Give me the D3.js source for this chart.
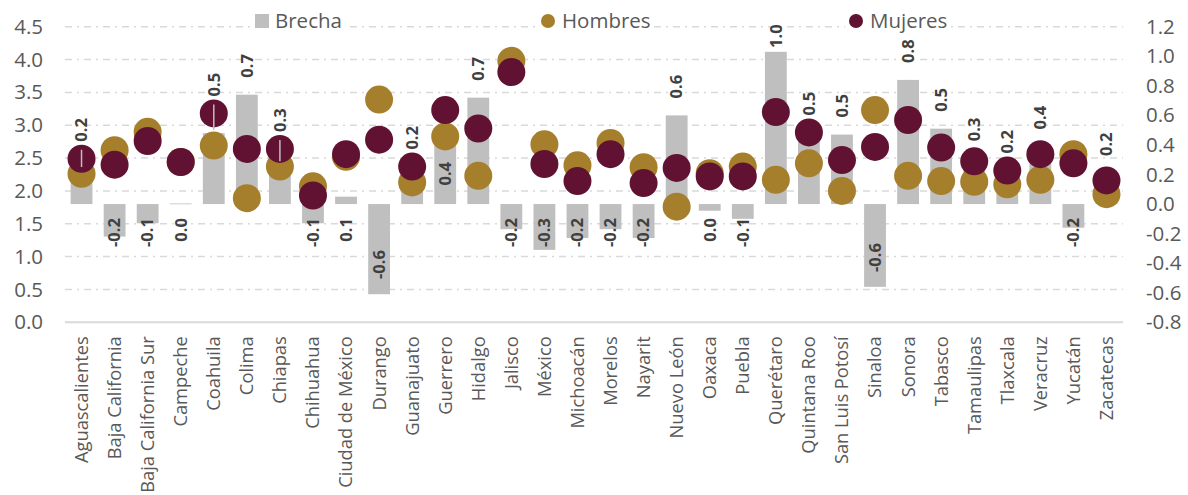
<!DOCTYPE html>
<html><head><meta charset="utf-8">
<script src="https://cdn.jsdelivr.net/npm/d3@7"></script>
<style>
html,body{margin:0;padding:0;background:#fff;}
svg{display:block;font-family:"Open Sans",sans-serif;}
</style></head>
<body><svg id="chart" width="1188" height="495"></svg>
<script>
const categories = ["Aguascalientes","Baja California","Baja California Sur","Campeche","Coahuila","Colima","Chiapas","Chihuahua","Ciudad de México","Durango","Guanajuato","Guerrero","Hidalgo","Jalisco","México","Michoacán","Morelos","Nayarit","Nuevo León","Oaxaca","Puebla","Querétaro","Quintana Roo","San Luis Potosí","Sinaloa","Sonora","Tabasco","Tamaulipas","Tlaxcala","Veracruz","Yucatán","Zacatecas"];
const hombres = [2.26,2.62,2.90,2.44,2.69,1.89,2.37,2.07,2.52,3.39,2.13,2.83,2.23,3.98,2.71,2.39,2.73,2.36,1.76,2.27,2.37,2.17,2.42,2.00,3.23,2.23,2.15,2.14,2.10,2.17,2.56,1.95];
const mujeres = [2.49,2.40,2.76,2.44,3.18,2.64,2.64,1.93,2.56,2.78,2.37,3.23,2.95,3.81,2.41,2.15,2.56,2.12,2.35,2.22,2.22,3.20,2.89,2.47,2.67,3.08,2.66,2.45,2.31,2.56,2.42,2.16];
const brecha = [0.23,-0.22,-0.13,0.004,0.48,0.74,0.27,-0.13,0.05,-0.61,0.24,0.41,0.72,-0.17,-0.31,-0.23,-0.17,-0.23,0.60,-0.045,-0.10,1.03,0.47,0.47,-0.56,0.84,0.51,0.31,0.21,0.39,-0.16,0.21];
const leftTicks = [0,0.5,1,1.5,2,2.5,3,3.5,4,4.5];
const rightTicks = [-0.8,-0.6,-0.4,-0.2,0,0.2,0.4,0.6,0.8,1.0,1.2];
const seriesNames = ["Brecha","Hombres","Mujeres"];

const C = {bar:"#bfbfbf", h:"#a57f2c", m:"#611232", grid:"#d9d9d9", tick:"#595959", lab:"#404040"};
const svg = d3.select("#chart");
const L = 65, R = 1123, T = 26.7, B = 322.3;
const yL = d3.scaleLinear().domain([0,4.5]).range([B,T]);
const yR = d3.scaleLinear().domain([-0.8,1.2]).range([B,T]);
const x = d3.scaleBand().domain(categories).range([L,R]).paddingInner(0.34).paddingOuter(0.17);
const cx = c => x(c) + x.bandwidth()/2;
const r = 14;
const loc = d3.formatLocale({decimal:".", thousands:",", grouping:[3], currency:["$",""], minus:"-"});
const fmt = loc.format(".1f");
const f1 = v => { let s = fmt(v); return s === "-0.0" ? "0.0" : s; };

// gridlines
svg.append("g").selectAll("line").data(leftTicks.filter(d=>d>0)).join("line")
  .attr("x1",L).attr("x2",R).attr("y1",d=>yL(d)).attr("y2",d=>yL(d))
  .attr("stroke",C.grid).attr("stroke-width",1.5).attr("stroke-dasharray","7,5,2,5");

// axes
const gl = svg.append("g").attr("transform",`translate(${L},0)`)
  .call(d3.axisLeft(yL).tickValues(leftTicks).tickFormat(fmt).tickSize(0).tickPadding(22));
const gr = svg.append("g").attr("transform",`translate(${R},0)`)
  .call(d3.axisRight(yR).tickValues(rightTicks).tickFormat(fmt).tickSize(0).tickPadding(23));
[gl,gr].forEach(g=>{ g.select(".domain").remove(); g.selectAll("text").attr("fill",C.tick).style("font-size","20.5px").style("font-family","Open Sans"); });

const gb = svg.append("g").attr("transform",`translate(0,${B})`)
  .call(d3.axisBottom(x).tickSize(0).tickPadding(0));
gb.select(".domain").remove();
gb.selectAll("text").attr("fill",C.tick).style("font-size","18.3px").style("font-family","Open Sans")
  .attr("text-anchor","end").attr("transform","translate(0,14) rotate(-90)").attr("x",0).attr("y",0).attr("dy","0.35em");

// bars
const y0 = yR(0);
svg.append("g").selectAll("rect").data(categories).join("rect")
  .attr("x",c=>x(c)).attr("width",x.bandwidth())
  .attr("y",(c,i)=>Math.min(yR(brecha[i]),y0)).attr("height",(c,i)=>Math.max(0.8,Math.abs(yR(brecha[i])-y0)))
  .attr("fill",C.bar);

// base line
svg.append("line").attr("x1",L).attr("x2",R).attr("y1",B).attr("y2",B).attr("stroke",C.grid).attr("stroke-width",2);

// dots
svg.append("g").selectAll("circle").data(categories).join("circle")
  .attr("cx",cx).attr("cy",(c,i)=>yL(hombres[i])).attr("r",r).attr("fill",C.h);
svg.append("g").selectAll("circle").data(categories).join("circle")
  .attr("cx",cx).attr("cy",(c,i)=>yL(mujeres[i])).attr("r",r).attr("fill",C.m);

// labels
const lg = svg.append("g");
categories.forEach((c,i)=>{
  const v = brecha[i], X = cx(c), txt = f1(v);
  if (c === "Guerrero") {
    lg.append("text").attr("transform",`translate(${X},${(yR(v)+y0)/2}) rotate(-90)`)
      .attr("text-anchor","middle").attr("dy","0.35em").text(txt);
    return;
  }
  if (v >= 0.08) {
    const barTop = yR(v);
    const circTop = Math.min(yL(hombres[i]), yL(mujeres[i])) - r;
    let bottom = Math.min(barTop - 17, circTop - 3);
    bottom = Math.max(bottom, 48);
    if (barTop - bottom > 22) {
      lg.append("line").attr("x1",X).attr("x2",X).attr("y1",bottom+8).attr("y2",barTop-3)
        .attr("stroke","#bfbfbf").attr("stroke-width",1.5);
    }
    lg.append("text").attr("transform",`translate(${X},${bottom}) rotate(-90)`)
      .attr("text-anchor","start").attr("dy","0.35em").text(txt);
  } else {
    let top = y0 + 14;
    if (c === "Durango") top = y0 + 46;
    if (c === "Sinaloa") top = y0 + 39;
    lg.append("text").attr("transform",`translate(${X},${top}) rotate(-90)`)
      .attr("text-anchor","end").attr("dy","0.35em").text(txt);
  }
});
lg.selectAll("text").attr("fill",C.lab).style("font-size","16.5px").style("font-weight","bold");

// legend
const leg = svg.append("g").style("font-size","20.5px").attr("fill",C.tick);
const items = [{n:seriesNames[0],x:255,t:"rect",c:C.bar},{n:seriesNames[1],x:548,t:"circle",c:C.h},{n:seriesNames[2],x:856,t:"circle",c:C.m}];
items.forEach(it=>{
  const g = leg.append("g");
  const tx = it.t==="rect" ? it.x+20 : it.x+14;
  g.append("rect").attr("x",it.x-(it.t==="rect"?4:11)).attr("y",10).attr("width",(it.t==="rect"?24:18)+it.n.length*11.5+6).attr("height",24).attr("fill","#fff");
  if (it.t==="rect") g.append("rect").attr("x",it.x).attr("y",14).attr("width",14).attr("height",14).attr("fill",it.c);
  else g.append("circle").attr("cx",it.x).attr("cy",21).attr("r",7).attr("fill",it.c);
  g.append("text").attr("x",tx).attr("y",21).attr("dy","0.35em").text(it.n);
});
</script></body></html>
